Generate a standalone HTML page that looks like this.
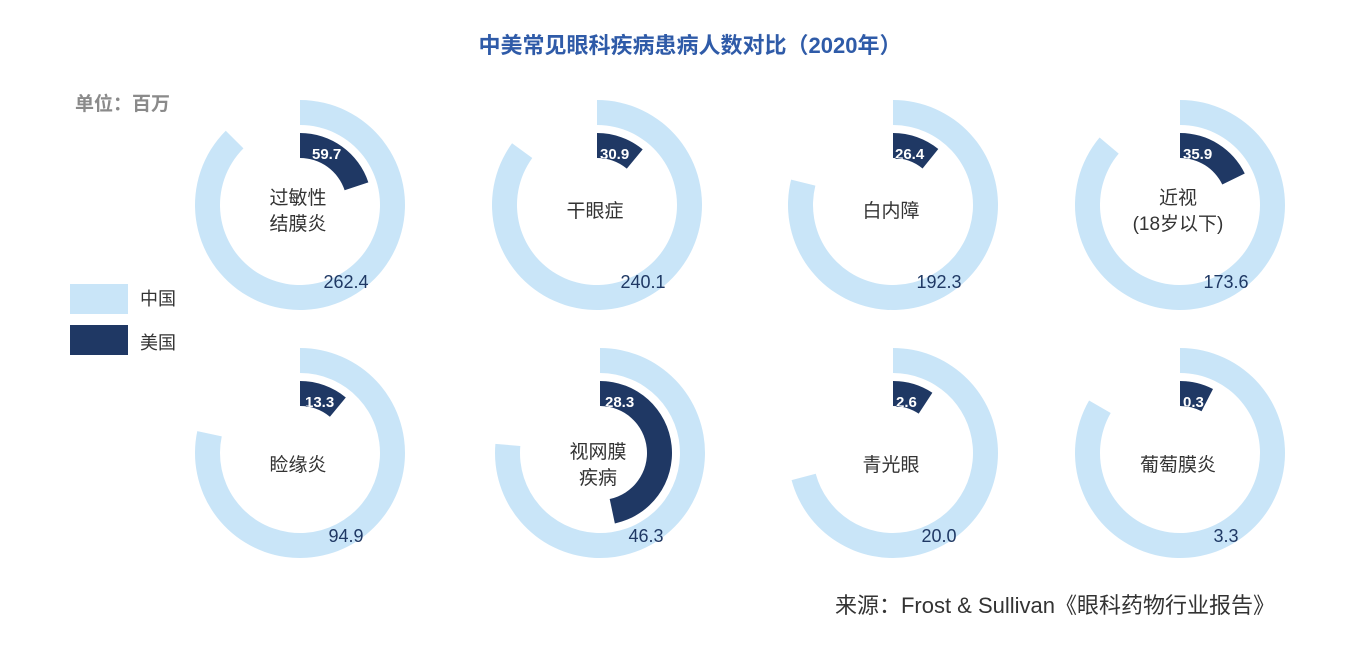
<!DOCTYPE html>
<html><head><meta charset="utf-8"><style>
body{margin:0;background:#fff;}
svg text{font-family:"Liberation Sans","Noto Sans CJK SC",sans-serif;}
</style></head><body>
<svg id="s" width="1367" height="649" xmlns="http://www.w3.org/2000/svg">
<text x="690" y="53" text-anchor="middle" font-size="22" font-weight="bold" fill="#2f5ba8">中美常见眼科疾病患病人数对比（2020年）</text>
<text x="75" y="110" font-size="19" font-weight="bold" fill="#8a8a8a">单位：百万</text>
<rect x="70" y="284" width="58" height="30" fill="#c9e5f8"/>
<rect x="70" y="325" width="58" height="30" fill="#1f3864"/>
<text x="140" y="305" font-size="18" fill="#333">中国</text>
<text x="140" y="349" font-size="18" fill="#333">美国</text>
<text x="1275" y="613" text-anchor="end" font-size="22" fill="#333">来源：Frost &amp; Sullivan《眼科药物行业报告》</text>
<g id="g"></g>
</svg>
<script>
var data=[
[300,205,315,262.4,59.7,["过敏性","结膜炎"],0,12],
[597,205,306,240.1,30.9,["干眼症"],0,3],
[893,205,284,192.3,26.4,["白内障"],0,2],
[1180,205,310,173.6,35.9,["近视","(18岁以下)"],0,3],
[300,453,282,94.9,13.3,["睑缘炎"],6,5],
[600,453,275,46.3,28.3,["视网膜","疾病"],6,5],
[893,453,255,20.0,2.6,["青光眼"],6,3],
[1180,453,300,3.3,0.3,["葡萄膜炎"],6,3]];
function pt(cx,cy,r,a){a=a*Math.PI/180;return [cx+r*Math.sin(a),cy-r*Math.cos(a)];}
function arc(cx,cy,r0,r1,a){var l=a>180?1:0;var p1=pt(cx,cy,r1,0),p2=pt(cx,cy,r1,a),p3=pt(cx,cy,r0,a),p4=pt(cx,cy,r0,0);
return "M"+p1+" A"+r1+","+r1+" 0 "+l+" 1 "+p2+" L"+p3+" A"+r0+","+r0+" 0 "+l+" 0 "+p4+"Z";}
var h="";
data.forEach(function(d,k){var cx=d[0],cy=d[1],A=d[2],o=d[6];
var us=arc(cx,cy,47,72,A*d[4]/d[3]);
h+='<path d="'+arc(cx,cy,80,105,A)+'" fill="#c9e5f8"/>';
h+='<clipPath id="c'+k+'"><path d="'+us+'"/></clipPath>';
h+='<path d="'+us+'" fill="#1f3864"/>';
var t='x="'+(cx+d[7])+'" y="'+(cy-46)+'" font-size="15" font-weight="bold"';
h+='<text '+t+' fill="#1f3864">'+d[4].toFixed(1)+'</text>';
h+='<text '+t+' fill="#fff" clip-path="url(#c'+k+')">'+d[4].toFixed(1)+'</text>';
h+='<text x="'+(cx+46)+'" y="'+(cy+83+o)+'" text-anchor="middle" font-size="18" fill="#1f3864">'+d[3].toFixed(1)+'</text>';
var L=d[5];var y0=cy+12+o-(L.length-1)*13;
L.forEach(function(s,i){h+='<text x="'+(cx-2)+'" y="'+(y0+i*26)+'" text-anchor="middle" font-size="19" fill="#333">'+s+'</text>';});
});
document.getElementById("g").innerHTML=h;
</script>
</body></html>
